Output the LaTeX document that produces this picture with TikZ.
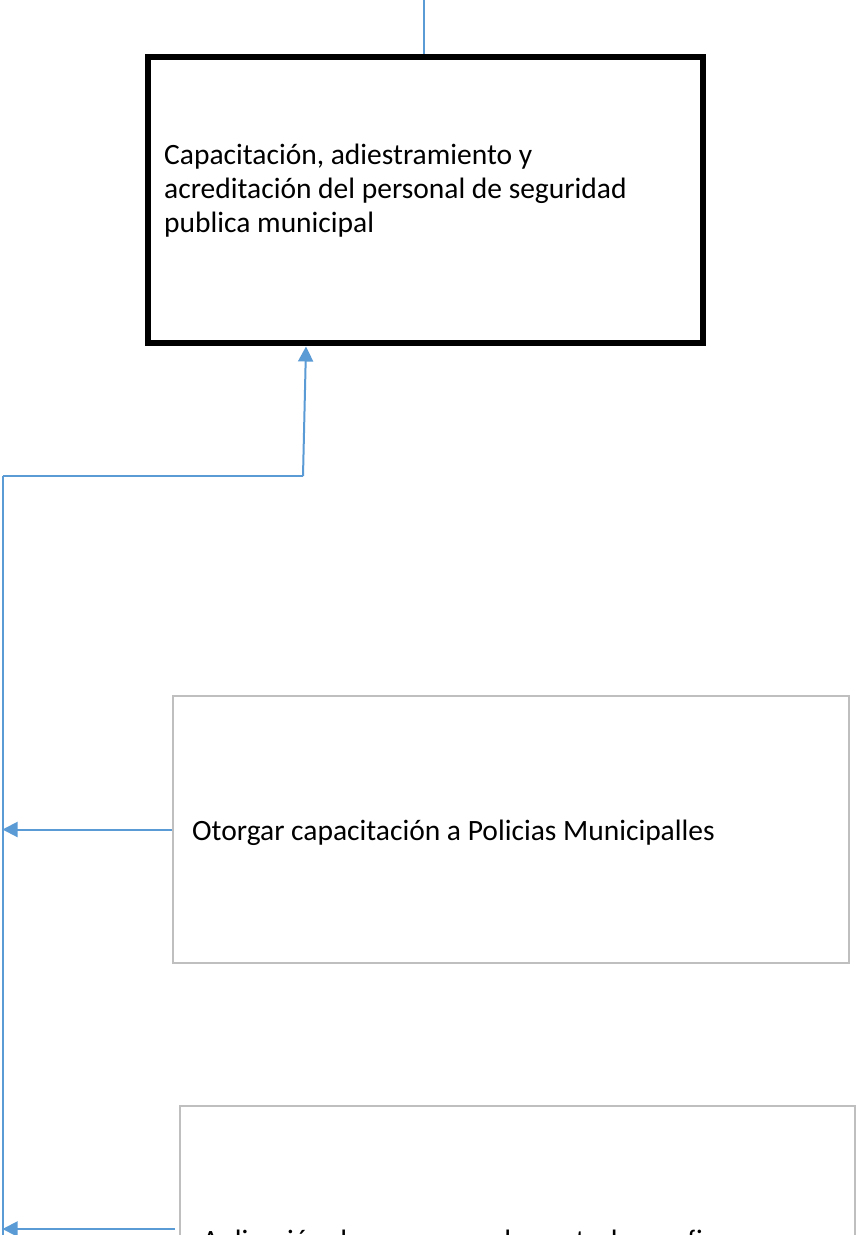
\documentclass[tikz,border=0pt]{standalone}
\usepackage{fontspec}
\setmainfont{Carlito}
\usetikzlibrary{arrows.meta}
\definecolor{conn}{RGB}{91,155,213}
\definecolor{boxgray}{RGB}{191,191,191}
\begin{document}
\begin{tikzpicture}[x=1pt,y=-1pt,
  mainbox/.style={draw=black,line width=6pt,minimum width=555pt,minimum height=286pt,inner sep=0pt},
  subbox/.style={draw=boxgray,line width=1.5pt,inner sep=0pt},
  txt/.style={inner sep=0pt,align=left,font=\fontsize{29.5}{34}\selectfont},
  connline/.style={draw=conn,line width=2pt},
  connarrow/.style={connline,-{Triangle[length=15pt,width=15pt]}}]
\useasboundingbox (0,0) rectangle (858,1235);
\clip (0,0) rectangle (858,1235);
\fill[white] (0,0) rectangle (858,1235);
% boxes
\node[mainbox] (b1) at (425.5,200) {};
\node[subbox,minimum width=676pt,minimum height=267pt] (b2) at (511,829.5) {};
\node[subbox,minimum width=675pt,minimum height=300pt] (b3) at (517.5,1256) {};
% texts
\node[txt,anchor=west] (t1) at (164,191) {Capacitación, adiestramiento y\\acreditación del personal de seguridad\\publica municipal};
\node[txt,anchor=base west] (t2) at (192,840) {Otorgar capacitación a Policias Municipalles};
\node[txt,anchor=base west] (t3) at (202,1250) {Aplicación de examenes de control y confianza};
% connectors
\coordinate (top) at (424,0);
\draw[connline] (top) -- (top |- b1.north);
\coordinate (c0) at (2.5,476);
\coordinate (c1) at (303,476);
\coordinate (c2) at (306,346.5);
\coordinate (bot) at (2.5,1240);
\draw[connline] (c0) -- (c1);
\draw[connarrow] (c1) -- (c2);
\draw[connline] (c0) -- (bot);
\draw[connarrow] (b2.west) -- (b2.west -| c0);
\coordinate (a3) at (175,1229);
\draw[connarrow] (a3) -- (a3 -| c0);
\end{tikzpicture}
\end{document}
